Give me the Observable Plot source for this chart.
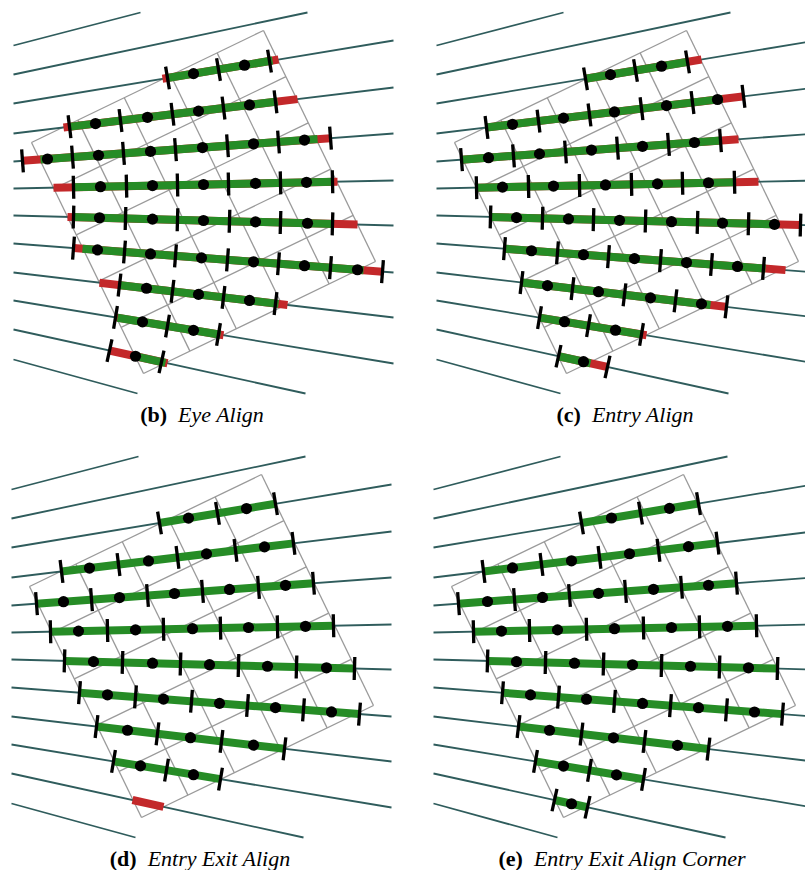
<!DOCTYPE html>
<html><head><meta charset="utf-8">
<script src="https://cdn.jsdelivr.net/npm/d3@7"></script>
<script src="https://cdn.jsdelivr.net/npm/@observablehq/plot@0.6"></script>
<style>
html,body{margin:0;padding:0;background:#fff;overflow:hidden;}
#fig{position:relative;width:805px;height:870px;}
.panel{position:absolute;}
.panel svg{display:block;overflow:visible;}
.cap{position:absolute;width:404px;text-align:center;font-family:"Liberation Serif","DejaVu Serif",serif;font-size:22px;line-height:22px;color:#000;white-space:nowrap;}
.cap b{font-weight:bold;}
.cap i{font-style:italic;}
</style></head><body><div id="fig"></div>
<script>
// ---------- shared geometry (panel-local units) ----------
const panelIds = ["b", "c", "d", "e"];
const panelTitles = ["Eye Align", "Entry Align", "Entry Exit Align", "Entry Exit Align Corner"];

// rays: [x0, y0, x1, y1]
const rays = [
  [13, 45, 140, 12],
  [13, 74, 307, 12],
  [13, 103, 393, 40],
  [13, 133, 393, 87],
  [13, 161, 393, 133],
  [13, 188, 393, 180],
  [13, 215, 393, 225],
  [13, 243, 393, 272],
  [13, 272, 393, 317],
  [13, 300, 393, 363],
  [13, 329, 305, 393],
  [13, 359, 137, 393]
];

// grid: parallelogram corners and number of cells per side
const gridLeft = [31, 142];
const gridTop = [263, 30];
const gridBottom = [143, 373];
const gridCells = 5;

// ray index (0-based) carrying each sampled row
const segmentRays = [2, 3, 4, 5, 6, 7, 8, 9, 10];

// ---------- (b) Eye Align ----------
const redB = [[162,278],[63,297],[22,330],[53,337],[67,357],[73,382],[99,287],[115,223],[110,167]];
const greenB = [[167,272],[70,277],[40,317],[72,333],[72,333],[82,363],[118,278],[117,220],[132,165]];
const ticksB = [
  [167,218,269],
  [69,120,172,223,275],
  [22,72,123,175,227,278,330],
  [73,126,177,228,280,332],
  [73,125,177,229,280,332],
  [73,124,175,227,278,330,382],
  [119,172,223,275],
  [115,167,218],
  [109,161]
];
const dotsB = [
  [193,244],
  [95,147,198,249],
  [47,98,150,202,253,304],
  [100,152,203,255,306],
  [99,152,203,255,307],
  [97,150,201,253,304,357],
  [146,198,249],
  [142,193],
  [135]
];

// ---------- (c) Entry Align ----------
const redC = [[162,278],[63,319],[38,315],[53,335],[67,377],[81,362],[98,302],[116,223],[135,183]];
const greenC = [[162,265],[63,299],[38,297],[53,312],[67,355],[81,342],[98,287],[116,219],[135,167]];
const ticksC = [
  [162,212,264],
  [63,115,166,218,269,320],
  [38,90,142,194,245,297],
  [53,105,156,208,259,311],
  [67,119,170,222,274,325,377],
  [81,134,185,237,288,340],
  [98,149,201,252,303],
  [116,165,218],
  [135,184]
];
const dotsC = [
  [187,238],
  [89,140,191,243,294],
  [65,116,168,219,271],
  [79,130,182,234,285],
  [93,145,196,248,299,351],
  [108,160,211,263,314],
  [124,175,227,278],
  [141,192],
  [160]
];

// ---------- (d) Entry Exit Align ----------
const redD = [null,null,null,null,null,null,null,null,[134,165]];
const greenD = [[161,277],[63,295],[38,315],[52,335],[66,356],[81,361],[98,286],[115,222],null];
const ticksD = [
  [161,219,277],
  [63,120,179,237,295],
  [38,93,149,204,260,315],
  [52,109,165,222,279,335],
  [66,124,182,240,298,356],
  [81,137,193,249,305,361],
  [98,159,223,286],
  [115,168,222],
  []
];
const dotsD = [
  [190,248],
  [91,150,208,266],
  [65,121,176,231,287],
  [80,137,194,250,307],
  [95,154,211,269,328],
  [109,165,221,277,333],
  [129,192,255],
  [142,195],
  []
];

// ---------- (e) Entry Exit Align Corner ----------
const redE = [null,null,null,null,null,null,null,null,null];
const greenE = [[161,278],[63,297],[38,316],[53,336],[67,357],[82,362],[98,288],[115,223],[134,167]];
const ticksE = [
  [161,220,278],
  [63,121,179,238,297],
  [38,94,149,205,261,316],
  [53,109,166,223,279,336],
  [67,125,183,241,299,357],
  [82,138,194,250,306,362],
  [98,161,224,288],
  [115,169,223],
  [134,167]
];
const dotsE = [
  [191,249],
  [92,151,209,268],
  [67,122,178,233,288],
  [81,137,194,251,307],
  [96,154,212,270,328],
  [110,166,222,278,334],
  [129,193,257],
  [143,196],
  [151]
];

// ---------- layout (positions of panels on the page) ----------
const layout = {
  b: {left: 0, top: 0, width: 410},
  c: {left: 423, top: 0, width: 382},
  d: {left: -2, top: 444, width: 410},
  e: {left: 420, top: 444, width: 385}
};
const panelHeight = 400;
const captionOffset = 404;

const panelData = {
  b: {red: redB, green: greenB, ticks: ticksB, dots: dotsB},
  c: {red: redC, green: greenC, ticks: ticksC, dots: dotsC},
  d: {red: redD, green: greenD, ticks: ticksD, dots: dotsD},
  e: {red: redE, green: greenE, ticks: ticksE, dots: dotsE}
};

// ---------- helpers ----------
function yOn(r, x) {
  const [x0, y0, x1, y1] = rays[r];
  return y0 + (x - x0) * (y1 - y0) / (x1 - x0);
}
function normalOf(r) {
  const [x0, y0, x1, y1] = rays[r];
  const L = Math.hypot(x1 - x0, y1 - y0);
  return [-(y1 - y0) / L, (x1 - x0) / L];
}
function spans(list) {
  const out = [];
  list.forEach((s, i) => {
    if (!s) return;
    const r = segmentRays[i];
    out.push({x1: s[0], y1: yOn(r, s[0]), x2: s[1], y2: yOn(r, s[1])});
  });
  return out;
}

const rayRows = rays.map(([x0, y0, x1, y1]) => ({x1: x0, y1: y0, x2: x1, y2: y1}));
const gu = [gridTop[0] - gridLeft[0], gridTop[1] - gridLeft[1]];
const gv = [gridBottom[0] - gridLeft[0], gridBottom[1] - gridLeft[1]];
const gridRows = [];
for (let i = 0; i <= gridCells; i++) {
  const t = i / gridCells;
  const a = [gridLeft[0] + t * gu[0], gridLeft[1] + t * gu[1]];
  gridRows.push({x1: a[0], y1: a[1], x2: a[0] + gv[0], y2: a[1] + gv[1]});
  const b = [gridLeft[0] + t * gv[0], gridLeft[1] + t * gv[1]];
  gridRows.push({x1: b[0], y1: b[1], x2: b[0] + gu[0], y2: b[1] + gu[1]});
}

const tickHalf = 11.5;
const fig = document.getElementById("fig");

panelIds.forEach((id, k) => {
  const d = panelData[id];
  const L = layout[id];
  const tickRows = [], dotRows = [];
  d.ticks.forEach((xs, i) => {
    const r = segmentRays[i];
    const [nx, ny] = normalOf(r);
    xs.forEach(x => {
      const y = yOn(r, x);
      tickRows.push({x1: x - tickHalf * nx, y1: y - tickHalf * ny, x2: x + tickHalf * nx, y2: y + tickHalf * ny});
    });
  });
  d.dots.forEach((xs, i) => {
    const r = segmentRays[i];
    xs.forEach(x => dotRows.push({x, y: yOn(r, x)}));
  });

  const chart = Plot.plot({
    width: L.width,
    height: panelHeight,
    margin: 0,
    x: {domain: [0, L.width], range: [0, L.width], axis: null},
    y: {domain: [0, panelHeight], range: [0, panelHeight], axis: null},
    marks: [
      Plot.link(gridRows, {x1: "x1", y1: "y1", x2: "x2", y2: "y2", stroke: "#9a9a9a", strokeWidth: 1.3}),
      Plot.link(rayRows, {x1: "x1", y1: "y1", x2: "x2", y2: "y2", stroke: "#2f5c5c", strokeWidth: 1.8}),
      Plot.link(spans(d.red), {x1: "x1", y1: "y1", x2: "x2", y2: "y2", stroke: "#c3282a", strokeWidth: 8}),
      Plot.link(spans(d.green), {x1: "x1", y1: "y1", x2: "x2", y2: "y2", stroke: "#268c26", strokeWidth: 8}),
      Plot.link(tickRows, {x1: "x1", y1: "y1", x2: "x2", y2: "y2", stroke: "#000", strokeWidth: 3.3}),
      Plot.dot(dotRows, {x: "x", y: "y", r: 5.6, fill: "#000"})
    ]
  });

  const wrap = document.createElement("div");
  wrap.className = "panel";
  wrap.style.left = L.left + "px";
  wrap.style.top = L.top + "px";
  wrap.appendChild(chart);
  fig.appendChild(wrap);

  const cap = document.createElement("div");
  cap.className = "cap";
  cap.style.left = L.left + "px";
  cap.style.top = (L.top + captionOffset) + "px";
  cap.innerHTML = "<b>(" + id + ")</b>&nbsp; <i>" + panelTitles[k] + "</i>";
  fig.appendChild(cap);
});
</script></body></html>
